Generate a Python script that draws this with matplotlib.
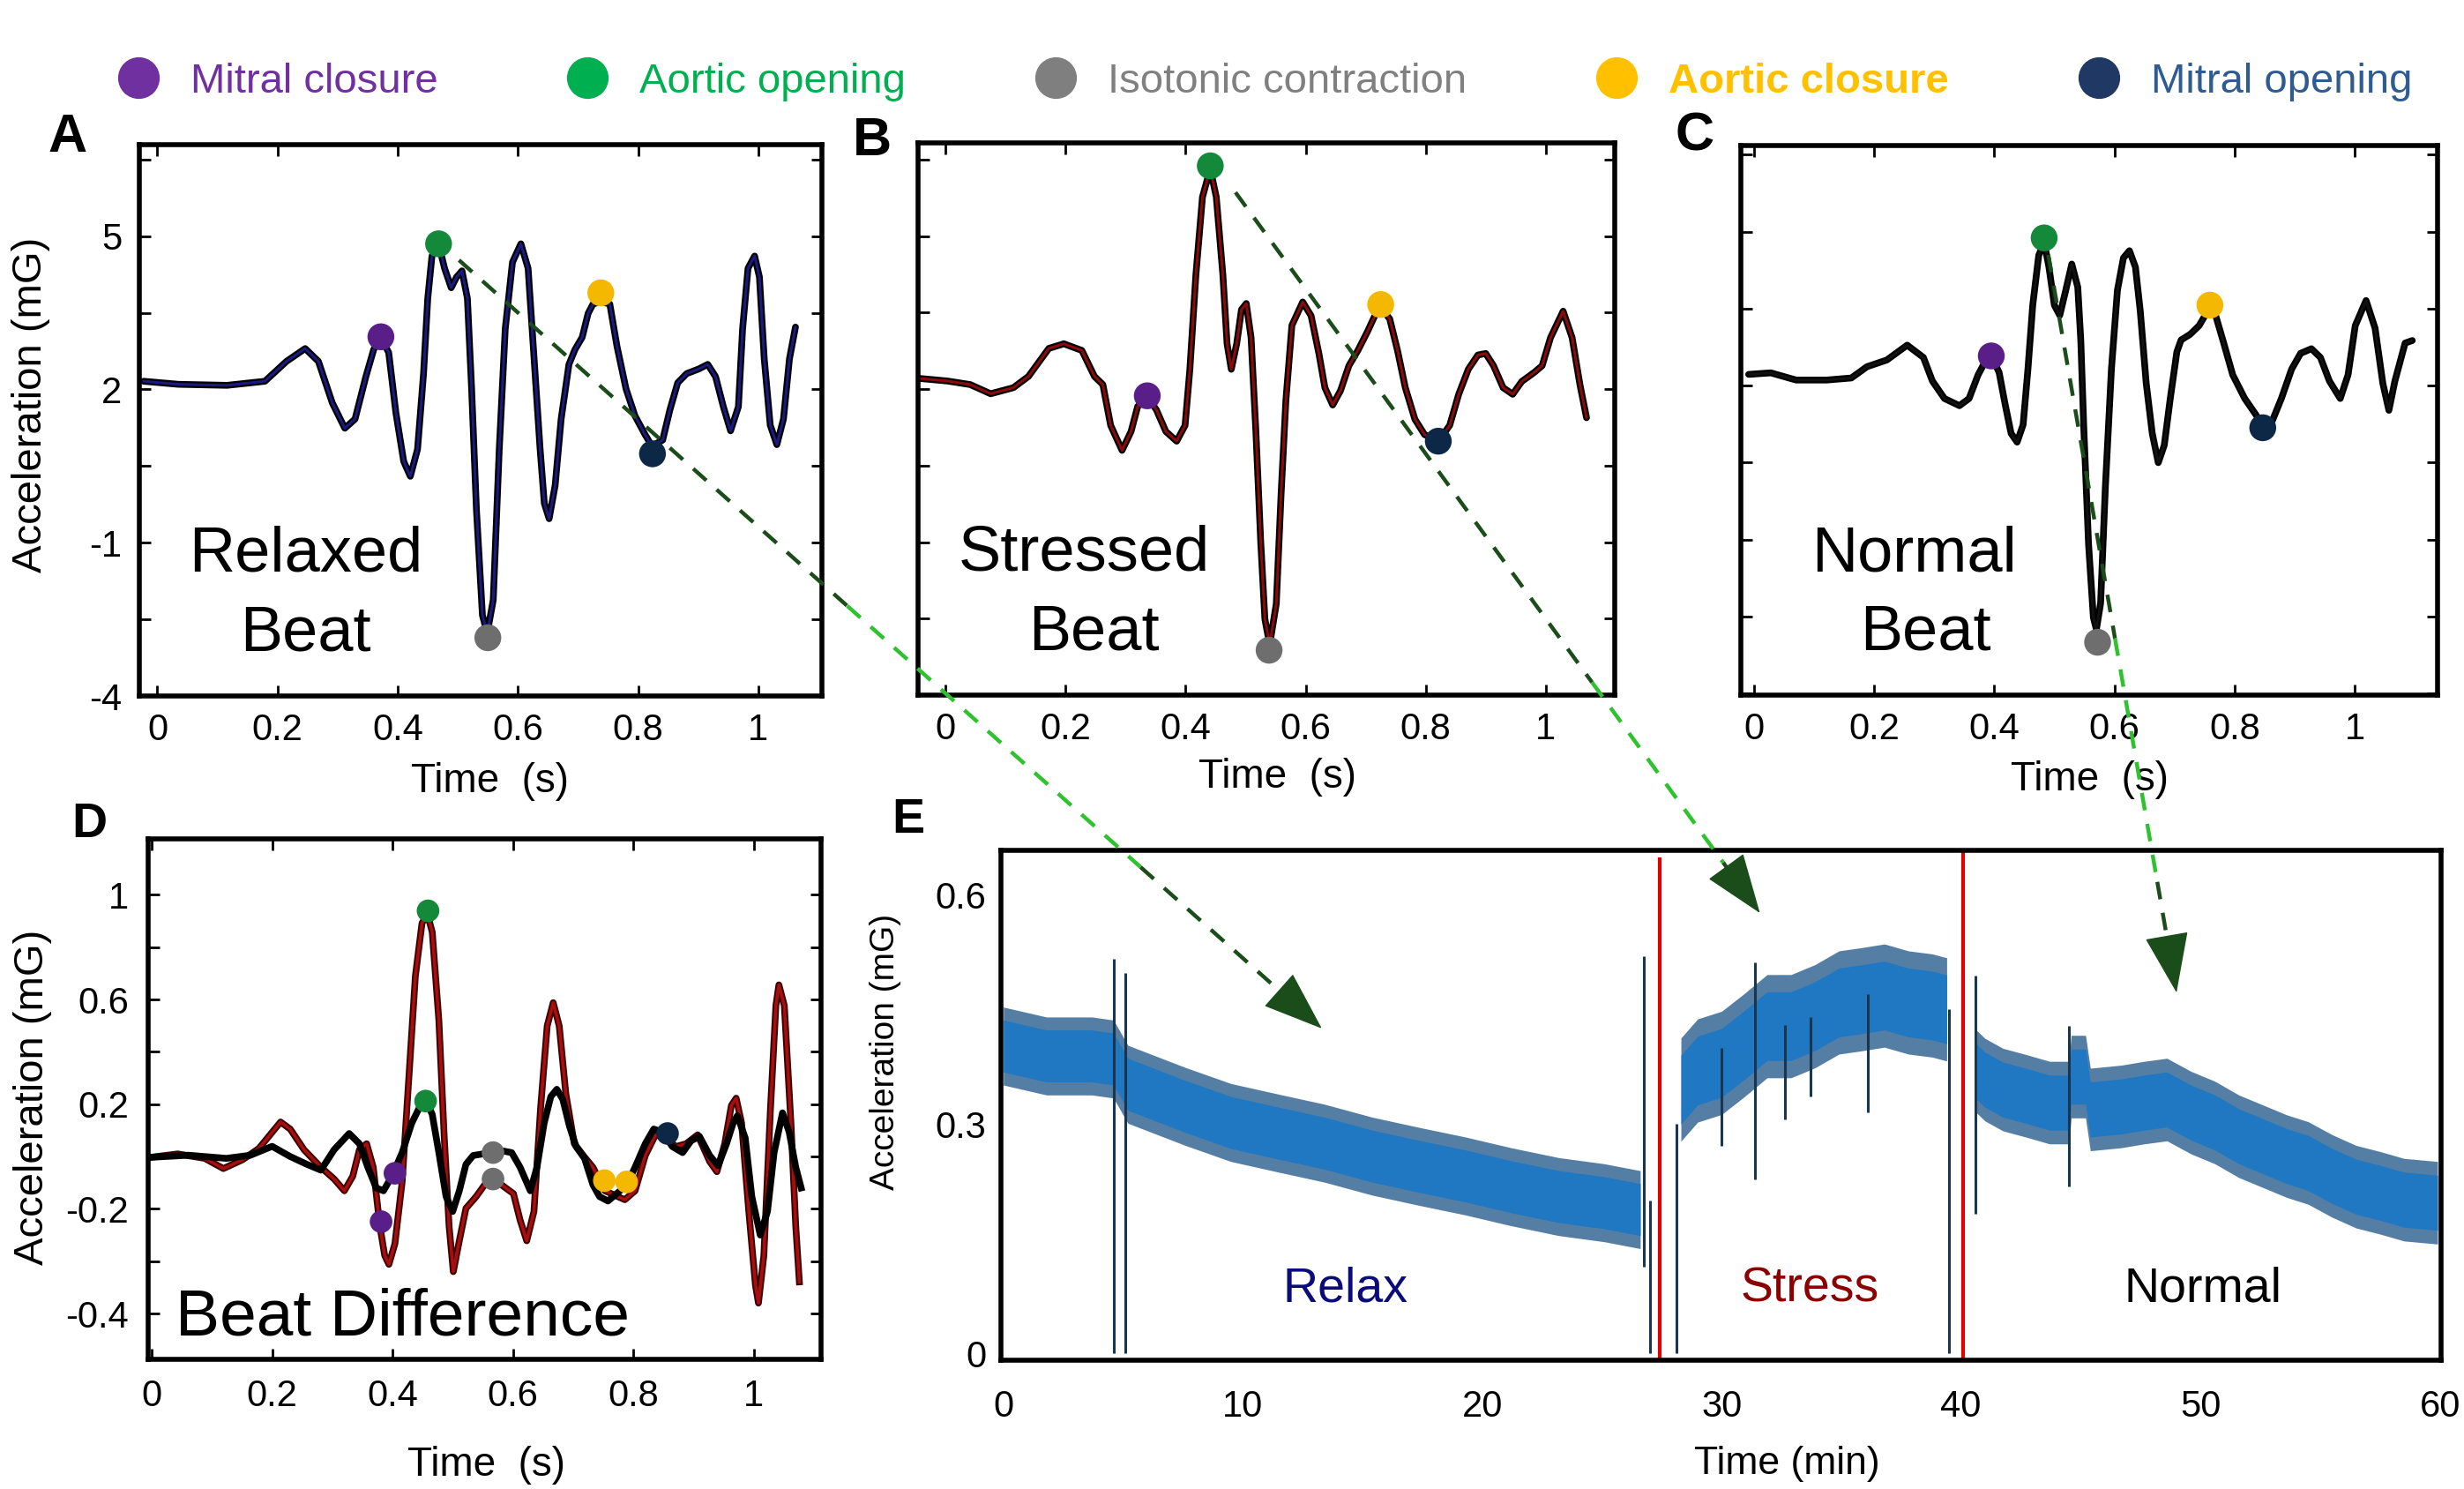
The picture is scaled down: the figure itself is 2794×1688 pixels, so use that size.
import numpy as np
import matplotlib
matplotlib.use('Agg')
import matplotlib.pyplot as plt
from matplotlib.lines import Line2D
from matplotlib.patches import FancyArrowPatch

plt.rcParams['font.family'] = ['Liberation Sans', 'DejaVu Sans']

# ---- legend / events ----
event_names = ['Mitral closure', 'Aortic opening', 'Isotonic contraction',
               'Aortic closure', 'Mitral opening']
legend_marker_colors = ['#7030a0', '#00b050', '#7f7f7f', '#ffc000', '#203864']
legend_text_colors = ['#7030a0', '#00b050', '#808080', '#ffc000', '#2e5b91']
event_colors = ['#5a1e88', '#15893a', '#6e6e6e', '#f5b800', '#0d2747']

# ---- A: relaxed beat ----
relaxed_t = [-0.023, 0.035, 0.116, 0.179, 0.215, 0.246, 0.268, 0.291, 0.312, 0.329,
             0.347, 0.360, 0.372, 0.385, 0.397, 0.410, 0.421, 0.433, 0.443, 0.450,
             0.457, 0.468, 0.478, 0.489, 0.498, 0.507, 0.516, 0.523, 0.531, 0.541,
             0.549, 0.559, 0.569, 0.579, 0.591, 0.605, 0.617, 0.627, 0.637, 0.644,
             0.652, 0.662, 0.672, 0.685, 0.695, 0.707, 0.717, 0.725, 0.738, 0.753,
             0.765, 0.780, 0.795, 0.811, 0.823, 0.841, 0.853, 0.866, 0.881, 0.901,
             0.916, 0.929, 0.942, 0.954, 0.967, 0.974, 0.983, 0.994, 1.002, 1.010,
             1.020, 1.031, 1.042, 1.052, 1.062]
relaxed_acc = [2.16, 2.10, 2.08, 2.16, 2.55, 2.80, 2.55, 1.74, 1.24, 1.42,
               2.25, 2.78, 3.02, 2.72, 1.54, 0.59, 0.30, 0.83, 2.31, 3.78,
               4.61, 4.85, 4.37, 3.99, 4.20, 4.32, 3.78, 2.01, -0.35, -2.42,
               -2.77, -2.12, 0.83, 3.19, 4.49, 4.85, 4.37, 2.60, 0.83, -0.23,
               -0.53, 0.12, 1.42, 2.49, 2.78, 3.02, 3.49, 3.67, 3.72, 3.67,
               2.84, 2.01, 1.48, 1.13, 0.89, 1.01, 1.60, 2.13, 2.31, 2.40,
               2.49, 2.25, 1.66, 1.19, 1.66, 3.19, 4.37, 4.61, 4.20, 2.60,
               1.30, 0.92, 1.42, 2.60, 3.22]
relaxed_ev_t = [0.372, 0.468, 0.550, 0.738, 0.824]
relaxed_ev_y = [3.03, 4.85, -2.86, 3.89, 0.74]

# ---- B: stressed beat ----
stressed_t = [-0.043, 0.003, 0.041, 0.075, 0.113, 0.138, 0.172, 0.197, 0.227, 0.248,
              0.262, 0.275, 0.294, 0.309, 0.320, 0.336, 0.351, 0.367, 0.385, 0.399,
              0.407, 0.417, 0.428, 0.441, 0.451, 0.462, 0.469, 0.476, 0.485, 0.493,
              0.501, 0.509, 0.517, 0.525, 0.532, 0.540, 0.551, 0.559, 0.567, 0.577,
              0.595, 0.609, 0.622, 0.632, 0.645, 0.658, 0.672, 0.687, 0.703, 0.714,
              0.725, 0.740, 0.753, 0.766, 0.782, 0.798, 0.821, 0.840, 0.855, 0.871,
              0.887, 0.900, 0.913, 0.929, 0.945, 0.960, 0.981, 0.994, 1.008, 1.029,
              1.044, 1.057, 1.068]
stressed_acc = [2.21, 2.16, 2.09, 1.91, 2.03, 2.25, 2.80, 2.89, 2.76, 2.25,
                2.09, 1.29, 0.80, 1.17, 1.66, 1.84, 1.60, 1.17, 0.98, 1.29,
                2.39, 4.24, 5.77, 6.32, 5.77, 4.24, 2.89, 2.39, 2.89, 3.56,
                3.68, 3.01, 1.17, -0.98, -2.51, -3.01, -2.21, -0.06, 1.78, 3.25,
                3.71, 3.44, 2.70, 2.03, 1.69, 1.97, 2.46, 2.76, 3.13, 3.41,
                3.60, 3.38, 2.76, 2.03, 1.41, 1.11, 0.98, 1.29, 1.90, 2.39,
                2.67, 2.70, 2.46, 2.03, 1.90, 2.15, 2.33, 2.46, 3.01, 3.53,
                3.01, 2.09, 1.44]
stressed_ev_t = [0.336, 0.441, 0.539, 0.725, 0.821]
stressed_ev_y = [1.87, 6.38, -3.12, 3.66, 0.98]

# ---- C: normal beat ----
normal_t = [-0.009, 0.028, 0.070, 0.121, 0.162, 0.188, 0.221, 0.255, 0.282, 0.297,
            0.317, 0.342, 0.358, 0.373, 0.383, 0.395, 0.408, 0.418, 0.428, 0.438,
            0.448, 0.456, 0.464, 0.474, 0.483, 0.491, 0.500, 0.509, 0.519, 0.529,
            0.539, 0.544, 0.549, 0.557, 0.565, 0.570, 0.577, 0.585, 0.595, 0.605,
            0.615, 0.625, 0.635, 0.643, 0.653, 0.663, 0.673, 0.683, 0.693, 0.704,
            0.711, 0.726, 0.741, 0.751, 0.759, 0.769, 0.782, 0.797, 0.817, 0.837,
            0.847, 0.862, 0.878, 0.895, 0.910, 0.928, 0.943, 0.958, 0.976, 0.989,
            1.001, 1.019, 1.034, 1.047, 1.057, 1.067, 1.084, 1.096]
normal_beat_acc = [2.22, 2.25, 2.11, 2.11, 2.15, 2.37, 2.50, 2.79, 2.55, 2.09,
                   1.75, 1.61, 1.75, 2.21, 2.43, 2.58, 2.26, 1.64, 1.07, 0.90,
                   1.24, 2.32, 3.57, 4.54, 4.80, 4.31, 3.57, 3.37, 3.86, 4.37,
                   3.92, 2.89, 1.18, -1.10, -2.52, -2.75, -2.24, 0.04, 2.32, 3.86,
                   4.49, 4.63, 4.31, 3.46, 2.04, 1.07, 0.50, 0.84, 1.75, 2.66,
                   2.89, 3.00, 3.17, 3.37, 3.50, 3.35, 2.83, 2.21, 1.75, 1.41,
                   1.25, 1.29, 1.75, 2.32, 2.63, 2.72, 2.55, 2.09, 1.75, 2.21,
                   3.17, 3.66, 3.12, 2.04, 1.52, 2.09, 2.83, 2.88]
normal_ev_t = [0.395, 0.483, 0.572, 0.759, 0.847]
normal_ev_y = [2.58, 4.88, -3.00, 3.57, 1.18]

# ---- D: beat difference ----
diff_red_t = [-0.002, 0.043, 0.088, 0.119, 0.151, 0.178, 0.214, 0.230, 0.253, 0.281,
              0.303, 0.320, 0.334, 0.345, 0.357, 0.368, 0.379, 0.387, 0.394, 0.404,
              0.416, 0.427, 0.438, 0.449, 0.458, 0.466, 0.477, 0.486, 0.494, 0.501,
              0.511, 0.522, 0.539, 0.553, 0.567, 0.581, 0.601, 0.612, 0.623, 0.635,
              0.646, 0.657, 0.667, 0.677, 0.688, 0.702, 0.719, 0.733, 0.753, 0.786,
              0.803, 0.820, 0.837, 0.854, 0.871, 0.888, 0.907, 0.927, 0.939, 0.952,
              0.963, 0.971, 0.980, 0.992, 1.003, 1.008, 1.017, 1.028, 1.037, 1.042,
              1.051, 1.062, 1.070, 1.076]
diff_red = [-0.003, 0.010, -0.007, -0.046, -0.012, 0.031, 0.132, 0.105, 0.026, -0.041,
            -0.086, -0.131, -0.075, 0.026, 0.049, -0.041, -0.266, -0.378, -0.412, -0.333,
            -0.097, 0.296, 0.690, 0.892, 0.926, 0.858, 0.521, 0.071, -0.266, -0.440,
            -0.322, -0.198, -0.153, -0.108, -0.097, -0.108, -0.142, -0.243, -0.322, -0.210,
            0.184, 0.499, 0.588, 0.499, 0.240, 0.049, -0.002, -0.041, -0.131, -0.165,
            -0.131, 0.004, 0.083, 0.071, 0.038, 0.049, 0.083, -0.019, -0.058, 0.049,
            0.195, 0.223, 0.128, -0.210, -0.491, -0.560, -0.378, 0.184, 0.577, 0.656,
            0.577, 0.128, -0.266, -0.479]
diff_black_t = [-0.002, 0.061, 0.124, 0.164, 0.200, 0.230, 0.258, 0.281, 0.303, 0.328,
                0.345, 0.359, 0.373, 0.385, 0.399, 0.416, 0.432, 0.444, 0.455, 0.466,
                0.477, 0.489, 0.500, 0.511, 0.522, 0.534, 0.550, 0.567, 0.584, 0.598,
                0.612, 0.629, 0.640, 0.652, 0.663, 0.673, 0.683, 0.694, 0.705, 0.719,
                0.733, 0.744, 0.758, 0.775, 0.789, 0.803, 0.820, 0.834, 0.848, 0.865,
                0.882, 0.896, 0.910, 0.927, 0.941, 0.955, 0.966, 0.973, 0.986, 0.997,
                1.011, 1.023, 1.034, 1.048, 1.059, 1.070, 1.079]
diff_black = [-0.003, 0.005, -0.007, 0.005, 0.039, 0.000, -0.030, -0.052, 0.026, 0.088,
              0.049, -0.041, -0.120, -0.131, -0.075, 0.015, 0.128, 0.184, 0.218, 0.161,
              0.015, -0.153, -0.210, -0.131, -0.030, 0.004, 0.010, 0.015, 0.021, 0.015,
              -0.041, -0.131, -0.041, 0.128, 0.229, 0.257, 0.218, 0.116, 0.038, -0.007,
              -0.108, -0.153, -0.170, -0.137, -0.108, -0.041, 0.049, 0.105, 0.094, 0.038,
              0.015, 0.060, 0.077, 0.004, -0.035, 0.049, 0.128, 0.156, 0.071, -0.153,
              -0.300, -0.210, 0.015, 0.167, 0.094, -0.041, -0.120]
diff_ev_t = [0.381, 0.404, 0.459, 0.455, 0.567, 0.567, 0.752, 0.789, 0.857]
diff_ev_y = [-0.249, -0.064, 0.939, 0.212, 0.015, -0.086, -0.092, -0.097, 0.088]
diff_ev_kind = [0, 0, 1, 1, 2, 2, 3, 3, 4]

# ---- E: 60 min recording ----
rec_relax_min = [0, 1.8, 3.7, 4.6, 5.2, 7.6, 9.5, 11.5, 13.4, 15.4, 17.3, 19.3, 21.2,
                 23.2, 25.1, 26.6]
rec_relax_acc = [0.402, 0.389, 0.389, 0.385, 0.352, 0.323, 0.302, 0.288, 0.275, 0.258,
                 0.245, 0.232, 0.218, 0.205, 0.197, 0.188]
rec_stress_min = [28.3, 29.0, 30.0, 30.9, 31.9, 32.9, 33.9, 34.9, 35.8, 36.8, 37.8,
                  38.8, 39.4]
rec_stress_acc = [0.345, 0.370, 0.380, 0.402, 0.428, 0.428, 0.441, 0.459, 0.463, 0.468,
                  0.459, 0.455, 0.450]
rec_normal_min = [40.6, 41.0, 41.75, 42.7, 43.7, 44.5, 44.6, 45.2, 45.4, 46.7, 47.65,
                  48.6, 49.6, 50.6, 51.6, 52.6, 53.6, 54.5, 55.5, 56.5, 57.5, 58.5, 59.9]
rec_normal_acc = [0.370, 0.358, 0.345, 0.337, 0.328, 0.328, 0.362, 0.362, 0.319, 0.323,
                  0.328, 0.332, 0.315, 0.302, 0.284, 0.271, 0.258, 0.249, 0.232, 0.218,
                  0.210, 0.201, 0.197]
band_spread = [0.034, 0.045, 0.036]   # half width of noise band per phase
spike_min = [4.6, 5.1, 26.75, 27.0, 28.1, 30.0, 31.4, 32.65, 33.7, 36.1, 39.5, 40.6, 44.5]
spike_low = [0.0, 0.0, 0.113, 0.0, 0.0, 0.271, 0.227, 0.306, 0.336, 0.315, 0.0, 0.183, 0.218]
spike_high = [0.516, 0.498, 0.520, 0.200, 0.300, 0.400, 0.511, 0.430, 0.440, 0.470,
              0.450, 0.494, 0.428]
phase_change_min = [27.4, 40.07]
phase_change_top = [0.649, 0.658]
phase_labels = ['Relax', 'Stress', 'Normal']
phase_label_min = [14.3, 33.7, 50.1]
phase_label_colors = ['#0b0b7a', '#8b0000', '#000000']


fig = plt.figure(figsize=(27.94, 16.88), dpi=100)


def frame(ax, labelsize=30, pad=14):
    for sp in ax.spines.values():
        sp.set_linewidth(4)
    ax.tick_params(direction='in', length=9, width=2, top=True, right=True,
                   labelsize=labelsize, pad=pad)


def beat_panel(rect, t, acc, ev_t, ev_y, core, xlim, ylim, word, wx, ylabels):
    ax = fig.add_axes(rect)
    ax.plot(t, acc, color='black', lw=5.5, solid_joinstyle='round', solid_capstyle='round')
    ax.plot(t, acc, color=core, lw=2.2, solid_joinstyle='round', solid_capstyle='round')
    ax.scatter(ev_t, ev_y, s=480, c=event_colors, edgecolors='none', zorder=5)
    ax.set_xlim(*xlim)
    ax.set_ylim(*ylim)
    ax.set_xticks([0, 0.2, 0.4, 0.6, 0.8, 1.0], ['0', '0.2', '0.4', '0.6', '0.8', '1'])
    ax.set_yticks([-4, -2.5, -1, 0.5, 2, 3.5, 5, 6.5], ylabels)
    frame(ax)
    ax.text(wx[0], 0.226, word, transform=ax.transAxes, ha='center', va='baseline',
            fontsize=52)
    ax.text(wx[1], 0.082, 'Beat', transform=ax.transAxes, ha='center', va='baseline',
            fontsize=52)
    return ax


axA = beat_panel([0.05655, 0.53258, 0.27702, 0.37026], relaxed_t, relaxed_acc,
                 relaxed_ev_t, relaxed_ev_y, '#1a1a80', (-0.030, 1.106), (-3.97, 6.79),
                 'Relaxed', (0.244, 0.244), ['-4', '', '-1', '', '2', '', '5', ''])
axA.text(-0.159, 0.528, 'Acceleration (mG)', transform=axA.transAxes, rotation=90,
         ha='center', va='center', fontsize=34)
axA.text(0.514, -0.155, 'Time  (s)', transform=axA.transAxes, ha='center', va='center',
         fontsize=33)

axB = beat_panel([0.37258, 0.53318, 0.28275, 0.37085], stressed_t, stressed_acc,
                 stressed_ev_t, stressed_ev_y, '#8b0a0a', (-0.046, 1.115), (-3.93, 6.83),
                 'Stressed', (0.239, 0.253), [''] * 8)
axB.text(0.516, -0.149, 'Time  (s)', transform=axB.transAxes, ha='center', va='center',
         fontsize=33)

axC = beat_panel([0.70651, 0.53318, 0.28275, 0.36908], normal_t, normal_beat_acc,
                 normal_ev_t, normal_ev_y, '#111111', (-0.022, 1.138), (-4.03, 6.68),
                 'Normal', (0.249, 0.265), [''] * 8)
axC.text(0.501, -0.154, 'Time  (s)', transform=axC.transAxes, ha='center', va='center',
         fontsize=33)

# ---- D ----
axD = fig.add_axes([0.06013, 0.08709, 0.27308, 0.34953])
axD.plot(diff_red_t, diff_red, color='#3a0000', lw=5.5, solid_joinstyle='round')
axD.plot(diff_red_t, diff_red, color='#a80e0e', lw=2.6, solid_joinstyle='round')
axD.plot(diff_black_t, diff_black, color='black', lw=5.5, solid_joinstyle='round')
axD.scatter(diff_ev_t, diff_ev_y, s=340, c=[event_colors[k] for k in diff_ev_kind],
            edgecolors='none', zorder=5)
axD.set_xlim(-0.006, 1.112)
axD.set_ylim(-0.775, 1.214)
axD.set_xticks([0, 0.2, 0.4, 0.6, 0.8, 1.0], ['0', '0.2', '0.4', '0.6', '0.8', '1'])
axD.set_yticks([-0.6, -0.4, -0.2, 0, 0.2, 0.4, 0.6, 0.8, 1.0],
               ['-0.4', '', '-0.2', '', '0.2', '', '0.6', '', '1'])
frame(axD, labelsize=30, pad=16)
axD.text(0.041, 0.047, 'Beat Difference', transform=axD.transAxes, ha='left',
         va='baseline', fontsize=54)
axD.text(-0.172, 0.503, 'Acceleration (mG)', transform=axD.transAxes, rotation=90,
         ha='center', va='center', fontsize=34)
axD.text(0.503, -0.203, 'Time  (s)', transform=axD.transAxes, ha='center', va='center',
         fontsize=33)

# ---- E ----
axE = fig.add_axes([0.40623, 0.08649, 0.58447, 0.34242])
for mins, acc, spread in zip([rec_relax_min, rec_stress_min, rec_normal_min],
                             [rec_relax_acc, rec_stress_acc, rec_normal_acc], band_spread):
    mins = np.array(mins)
    acc = np.array(acc)
    axE.fill_between(mins, acc - spread * 1.5, acc + spread * 1.5, color='#2b5e8e',
                     lw=0, alpha=0.8)
    axE.fill_between(mins, acc - spread, acc + spread, color='#1f78c1', lw=0)
axE.vlines(spike_min, spike_low, spike_high, color='#1a3550', lw=2.2)
axE.vlines(phase_change_min, -0.009, phase_change_top, color='#e00000', lw=3)
for lab, m, c in zip(phase_labels, phase_label_min, phase_label_colors):
    axE.text(m, 0.068, lab, ha='center', va='baseline', fontsize=40, color=c)
axE.set_xlim(-0.1, 60.05)
axE.set_ylim(-0.009, 0.658)
axE.set_xticks([0, 10, 20, 30, 40, 50, 60])
axE.set_yticks([0, 0.3, 0.6], ['0', '0.3', '0.6'])
for sp in axE.spines.values():
    sp.set_linewidth(4)
axE.tick_params(axis='x', length=0, labelsize=30, pad=24)
axE.tick_params(axis='y', length=0, labelsize=30, pad=12)
axE.text(-0.080, 0.604, 'Acceleration (mG)', transform=axE.transAxes, rotation=90,
         ha='center', va='center', fontsize=28)
axE.text(0.546, -0.204, 'Time (min)', transform=axE.transAxes, ha='center',
         va='center', fontsize=32)

# ---- panel letters ----
for lab, x, y, fs in [('A', 77, 156, 44), ('B', 989, 161, 44), ('C', 1922, 155, 44),
                      ('D', 101, 935, 40), ('E', 1030, 930, 40)]:
    fig.text(x / 2794, 1 - y / 1688, lab, ha='center', va='center', fontsize=fs,
             fontweight='bold')

# ---- legend ----
handles = [Line2D([], [], ls='none', marker='o', ms=33, mfc=c, mec=c)
           for c in legend_marker_colors]
leg = fig.legend(handles, event_names, loc='center left', bbox_to_anchor=(0.0476, 0.945),
                 ncol=5, frameon=False, fontsize=34, handlelength=1.0,
                 handletextpad=0.75, columnspacing=3.1, borderpad=0, borderaxespad=0)
for txt, c in zip(leg.get_texts(), legend_text_colors):
    txt.set_color(c)
leg.get_texts()[3].set_fontweight('bold')

# ---- dashed arrows from beats to recording ----
dark_green = '#1b4d1b'
bright_green = '#2ec22e'
to_fig = fig.transFigure.inverted()


def dashed_arrow(ax0, p0, ax1, p1, zones):
    s = ax0.transData.transform(p0)
    e = ax1.transData.transform(p1)
    d = e - s
    u = d / np.hypot(*d)
    head_start = e - u * 46
    for f0, f1, c in zones:
        a = s + d * f0
        b = s + d * f1 if f1 < 1 else head_start
        a, b = to_fig.transform(a), to_fig.transform(b)
        fig.add_artist(Line2D([a[0], b[0]], [a[1], b[1]], transform=fig.transFigure,
                              color=c, lw=3.2, dashes=(4.5, 3.5), zorder=10))
    hs, he = to_fig.transform(head_start - u * 2), to_fig.transform(e)
    fig.add_artist(FancyArrowPatch(hs, he, transform=fig.transFigure,
                                   arrowstyle='-|>,head_length=1.5,head_width=0.55',
                                   mutation_scale=30, color=dark_green, lw=1,
                                   shrinkA=0, shrinkB=0, zorder=10))


dashed_arrow(axA, (0.502, 4.53), axE, (13.3, 0.425),
             [(0, 0.45, dark_green), (0.45, 0.79, bright_green), (0.79, 1, dark_green)])
dashed_arrow(axB, (0.483, 5.86), axE, (31.6, 0.576),
             [(0, 0.68, dark_green), (0.68, 0.93, bright_green), (0.93, 1, dark_green)])
dashed_arrow(axC, (0.490, 4.55), axE, (49.0, 0.472),
             [(0, 0.52, dark_green), (0.52, 0.85, bright_green), (0.85, 1, dark_green)])

fig.savefig('out.png', dpi=100)
